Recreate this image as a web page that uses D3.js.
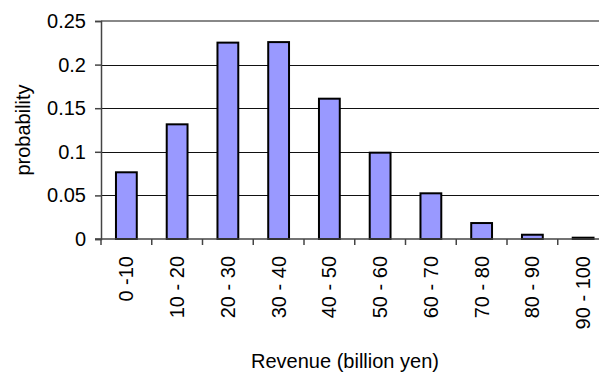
<!DOCTYPE html>
<html>
<head>
<meta charset="utf-8">
<script src="https://cdn.jsdelivr.net/npm/d3@7"></script>
<style>
  html, body { margin: 0; padding: 0; background: #fff; }
  svg { display: block; font-family: "Liberation Sans", Arial, sans-serif; }
</style>
</head>
<body>
<svg id="chart" width="599" height="372"></svg>
<script>
// Revenue distribution (probability per 10-billion-yen bin)
const categories = ["0 -10", "10 - 20", "20 - 30", "30 - 40", "40 - 50",
                    "50 - 60", "60 - 70", "70 - 80", "80 - 90", "90 - 100"];
const probabilities = [0.0765, 0.1315, 0.2252, 0.2258, 0.1609,
                       0.0990, 0.0524, 0.0183, 0.0049, 0.0015];
const yTicks = [0, 0.05, 0.1, 0.15, 0.2, 0.25];
const yTickLabels = ["0", "0.05", "0.1", "0.15", "0.2", "0.25"];

const svg = d3.select("#chart");
const plotLeft = 101, plotTop = 21, plotBottom = 239, plotRight = 608.5;
const axisColor = "#444";

const x = d3.scaleBand()
  .domain(categories)
  .range([plotLeft, plotRight])
  .paddingInner(0.59)
  .paddingOuter(0.295);

const y = d3.scaleLinear().domain([0, 0.25]).range([plotBottom, plotTop]);

// horizontal gridlines
svg.append("g")
  .selectAll("line")
  .data(yTicks.filter(d => d > 0 && d < 0.25))
  .join("line")
  .attr("x1", plotLeft).attr("x2", 599)
  .attr("y1", d => Math.round(y(d)) + 0.5).attr("y2", d => Math.round(y(d)) + 0.5)
  .attr("stroke", "#111").attr("stroke-width", 1);

// plot-area top border
svg.append("line")
  .attr("x1", plotLeft).attr("x2", 599)
  .attr("y1", plotTop).attr("y2", plotTop)
  .attr("stroke", "#888").attr("stroke-width", 2);

// bars
svg.append("g")
  .selectAll("rect")
  .data(categories.map((c, i) => ({ c, v: probabilities[i] })))
  .join("rect")
  .attr("x", d => x(d.c))
  .attr("y", d => y(d.v))
  .attr("width", x.bandwidth())
  .attr("height", d => plotBottom - y(d.v))
  .attr("fill", "#9999ff")
  .attr("stroke", "#000")
  .attr("stroke-width", 2);

// y axis
const yAxis = svg.append("g")
  .attr("transform", `translate(${plotLeft},0)`)
  .call(d3.axisLeft(y).tickValues(yTicks)
    .tickFormat((d, i) => yTickLabels[i]).tickSize(6).tickPadding(9));
yAxis.select(".domain").attr("stroke", axisColor).attr("stroke-width", 1.5);
yAxis.selectAll(".tick line").attr("stroke", axisColor).attr("stroke-width", 1.5);
yAxis.selectAll("text").attr("font-size", 20).attr("fill", "#000")
  .attr("font-family", "Liberation Sans, Arial, sans-serif");

// x axis (labels at band centres, tick marks at band boundaries)
const xAxis = svg.append("g")
  .attr("transform", `translate(0,${plotBottom})`)
  .call(d3.axisBottom(x).tickSize(0).tickPadding(0));
xAxis.select(".domain").remove();
xAxis.selectAll("text")
  .attr("font-size", 20).attr("fill", "#000")
  .attr("font-family", "Liberation Sans, Arial, sans-serif")
  .attr("transform", "rotate(-90)")
  .attr("text-anchor", "end")
  .attr("x", -17).attr("y", 0).attr("dy", "0.35em");

const step = x.step();
const boundaries = categories.map(c => x(c) - step * x.paddingInner() / 2);
svg.append("line")
  .attr("x1", plotLeft - 6).attr("x2", 599)
  .attr("y1", plotBottom).attr("y2", plotBottom)
  .attr("stroke", axisColor).attr("stroke-width", 1.5);
svg.append("g")
  .selectAll("line")
  .data(boundaries)
  .join("line")
  .attr("x1", d => d).attr("x2", d => d)
  .attr("y1", plotBottom).attr("y2", plotBottom + 6)
  .attr("stroke", axisColor).attr("stroke-width", 1.5);

// axis titles
svg.append("text")
  .attr("transform", "translate(30,130) rotate(-90)")
  .attr("text-anchor", "middle")
  .attr("font-size", 20)
  .text("probability");

svg.append("text")
  .attr("x", 345).attr("y", 368)
  .attr("text-anchor", "middle")
  .attr("font-size", 20)
  .text("Revenue (billion yen)");
</script>
</body>
</html>
